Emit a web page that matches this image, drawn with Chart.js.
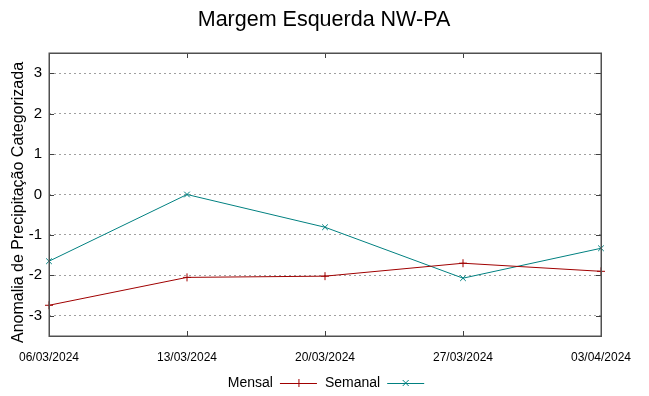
<!DOCTYPE html>
<html>
<head>
<meta charset="utf-8">
<script src="https://cdn.jsdelivr.net/npm/chart.js@4"></script>
<style>
html,body{margin:0;padding:0;background:#fff;}
#wrap{width:649px;height:396px;position:relative;}
</style>
</head>
<body>
<div id="wrap"><canvas id="c" width="649" height="396"></canvas></div>
<script>
const categories = ["06/03/2024", "13/03/2024", "20/03/2024", "27/03/2024", "03/04/2024"];
const mensal = [-2.74, -2.05, -2.02, -1.70, -1.90];
const semanal = [-1.65, 0.00, -0.81, -2.07, -1.33];
const yTicks = [-3, -2, -1, 0, 1, 2, 3];
const titleText = "Margem Esquerda NW-PA";
const yTitle = "Anomalia de Precipitação Categorizada";

const FONT = "'Liberation Sans', Arial, sans-serif";

const framePlugin = {
  id: 'frame',
  afterDatasetsDraw(chart) {
    const {ctx, chartArea: a, scales} = chart;
    ctx.save();
    ctx.strokeStyle = '#404040';
    ctx.lineWidth = 1;
    ctx.beginPath();
    yTicks.forEach(v => {
      const y = Math.round(scales.y.getPixelForValue(v)) + 0.5;
      ctx.moveTo(a.left, y); ctx.lineTo(a.left + 5, y);
      ctx.moveTo(a.right, y); ctx.lineTo(a.right - 5, y);
    });
    categories.forEach((c, i) => {
      const x = Math.round(scales.x.getPixelForValue(i)) + 0.5;
      ctx.moveTo(x, a.bottom); ctx.lineTo(x, a.bottom - 5);
      ctx.moveTo(x, a.top); ctx.lineTo(x, a.top + 5);
    });
    ctx.stroke();
    ctx.strokeStyle = '#505050';
    ctx.lineWidth = 1.5;
    ctx.strokeRect(Math.round(a.left) + 0.25, Math.round(a.top) + 0.25, Math.round(a.right - a.left), Math.round(a.bottom - a.top));
    ctx.restore();
  }
};

const textPlugin = {
  id: 'gpText',
  afterDraw(chart) {
    const ctx = chart.ctx;
    const a = chart.chartArea;
    ctx.save();
    ctx.fillStyle = '#000';
    // main title
    ctx.font = '21.5px ' + FONT;
    ctx.textAlign = 'center';
    ctx.textBaseline = 'middle';
    ctx.fillText(titleText, (a.left + a.right) / 2 - 1, 20);
    // y-axis title
    ctx.save();
    ctx.translate(19, (a.top + a.bottom) / 2 + 8);
    ctx.rotate(-Math.PI / 2);
    ctx.font = '16px ' + FONT;
    ctx.fillText(yTitle, 0, 0);
    ctx.restore();
    // legend (text then sample, gnuplot style)
    ctx.font = '14px ' + FONT;
    ctx.textBaseline = 'middle';
    ctx.textAlign = 'left';
    const y = 383;
    const sampleLen = 37, gapText = 7, gapItem = 8;
    const items = chart.data.datasets.map(d => ({label: d.label, color: d.borderColor, style: d.pointStyle, w: ctx.measureText(d.label).width}));
    let total = 0;
    items.forEach((it, i) => { total += it.w + gapText + sampleLen + (i < items.length - 1 ? gapItem : 0); });
    let x = (a.left + a.right) / 2 - total / 2 + 1;
    items.forEach(it => {
      ctx.fillStyle = '#000';
      ctx.fillText(it.label, x, y);
      x += it.w + gapText;
      ctx.strokeStyle = it.color;
      ctx.lineWidth = 1;
      ctx.beginPath();
      ctx.moveTo(x, y + 0.5); ctx.lineTo(x + sampleLen, y + 0.5);
      const cx = x + sampleLen / 2, r = 4;
      if (it.style === 'cross') {
        ctx.moveTo(cx - r, y + 0.5); ctx.lineTo(cx + r, y + 0.5);
        ctx.moveTo(cx + 0.5, y - r); ctx.lineTo(cx + 0.5, y + r);
      } else {
        const d = r * 0.75;
        ctx.moveTo(cx - d, y - d); ctx.lineTo(cx + d, y + d);
        ctx.moveTo(cx - d, y + d); ctx.lineTo(cx + d, y - d);
      }
      ctx.stroke();
      x += sampleLen + gapItem;
    });
    ctx.restore();
  }
};

new Chart(document.getElementById('c'), {
  type: 'line',
  data: {
    labels: categories,
    datasets: [
      {label: 'Mensal', data: mensal, borderColor: '#a00000', backgroundColor: '#a00000', borderWidth: 1, pointStyle: 'cross', pointRadius: 4, pointBorderWidth: 1, tension: 0, fill: false},
      {label: 'Semanal', data: semanal, borderColor: '#008080', backgroundColor: '#008080', borderWidth: 1, pointStyle: 'crossRot', pointRadius: 4, pointBorderWidth: 1, tension: 0, fill: false}
    ]
  },
  options: {
    responsive: false,
    animation: false,
    devicePixelRatio: 1,
    layout: {padding: {left: 0, right: 48, top: 53, bottom: 0}},
    plugins: {
      legend: {display: false},
      tooltip: {enabled: false},
      title: {display: false}
    },
    scales: {
      x: {
        type: 'category',
        offset: false,
        grid: {display: false, drawTicks: false},
        border: {display: false},
        ticks: {color: '#000', font: {family: FONT, size: 12}, padding: 14, autoSkip: false, maxRotation: 0, minRotation: 0},
        afterFit(s) { s.height = 60; }
      },
      y: {
        min: -3.5, max: 3.5,
        afterBuildTicks(s) { s.ticks = yTicks.map(v => ({value: v})); },
        grid: {color: '#a0a0a0', lineWidth: 1, drawTicks: false},
        border: {display: false, dash: [2, 3]},
        ticks: {color: '#000', font: {family: FONT, size: 15}, padding: 7},
        title: {display: false},
        afterFit(s) { s.width = 49; }
      }
    }
  },
  plugins: [framePlugin, textPlugin]
});
</script>
</body>
</html>
